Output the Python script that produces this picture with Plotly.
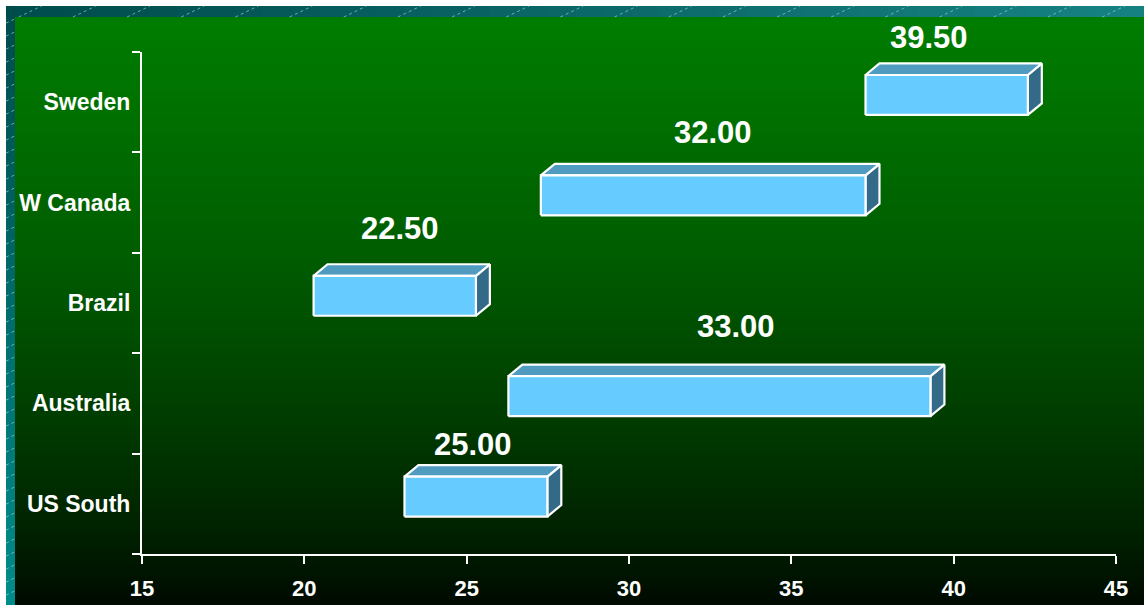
import plotly.graph_objects as go

# ---- data ----
categories = ["US South", "Australia", "Brazil", "W Canada", "Sweden"]
range_low = [23.3, 26.5, 20.5, 27.5, 37.5]
range_high = [27.7, 39.5, 25.5, 37.5, 42.5]
value_labels = ["25.00", "33.00", "22.50", "32.00", "39.50"]
label_x = [25.2, 33.3, 22.95, 32.6, 39.25]
label_y = [0.59, 1.77, 2.74, 3.70, 4.64]
x_ticks = [15, 20, 25, 30, 35, 40, 45]

# ---- geometry / style ----
W_FIG, H_FIG = 1144, 605
L, R, T, B = 142, 1116, 52, 554
PW, PH = R - L, B - T
Y_RANGE = [-0.5, len(categories) - 0.5]
FONT = "Arial, Liberation Sans, sans-serif"
DX, DY = 0.43, 0.115      # 3-D depth in data units
F0, F1 = -0.127, 0.271    # front face extent around category centre
FRONT, TOP, SIDE = "#66CCFF", "#4F9CC0", "#336A88"


def xp(px):
    return (px - L) / PW


def yp(py):
    return (B - py) / PH


def lerp(c1, c2, t):
    return tuple(round(a + (b - a) * t) for a, b in zip(c1, c2))


def rgb(c):
    return "rgb(%d,%d,%d)" % c


shapes = []

# green vertical gradient background
stops = [(17, (0, 125, 0)), (260, (0, 92, 0)), (400, (0, 64, 0)), (530, (0, 34, 0)), (605, (0, 10, 0))]


def green_at(y):
    for (y0, c0), (y1, c1) in zip(stops[:-1], stops[1:]):
        if y <= y1:
            return lerp(c0, c1, max(0.0, (y - y0) / (y1 - y0)))
    return stops[-1][1]


step = 4
y = 17
while y < 605:
    shapes.append(dict(type="rect", xref="paper", yref="paper", layer="below",
                       x0=xp(15), x1=xp(1150), y0=yp(y), y1=yp(min(612, y + step + 1)),
                       fillcolor=rgb(green_at(y + step / 2)), line=dict(width=0)))
    y += step

# teal border strips
TL, TRc, BLc = (0, 76, 76), (22, 130, 130), (0, 140, 140)
nseg = 40
for i in range(nseg):
    x0 = 6 + (1144 - 6) * i / nseg
    x1 = 6 + (1144 - 6) * (i + 1) / nseg + 1
    shapes.append(dict(type="rect", xref="paper", yref="paper", layer="below",
                       x0=xp(x0), x1=xp(x1), y0=yp(6), y1=yp(17),
                       fillcolor=rgb(lerp(TL, TRc, (i + 0.5) / nseg)), line=dict(width=0)))
for i in range(nseg):
    y0 = 17 + (605 - 17) * i / nseg
    y1 = 17 + (605 - 17) * (i + 1) / nseg + 1
    shapes.append(dict(type="rect", xref="paper", yref="paper", layer="below",
                       x0=xp(6), x1=xp(15), y0=yp(y0), y1=yp(y1),
                       fillcolor=rgb(lerp(TL, BLc, (i + 0.5) / nseg)), line=dict(width=0)))
shapes.append(dict(type="rect", xref="paper", yref="paper", layer="below",
                   x0=xp(6), x1=xp(15), y0=yp(6), y1=yp(17),
                   fillcolor=rgb(TL), line=dict(width=0)))

# diagonal hatch lines in the border
slope = 0.48
hatch = dict(color="rgba(150,205,205,0.7)", width=1, dash="dot")
c = 0
while c < 605 + slope * 1144:
    xa = max((c - 17) / slope, 6)
    xb = min((c - 6) / slope, 1144)
    if xb > xa and c % 26 == 0:
        shapes.append(dict(type="line", xref="paper", yref="paper", layer="below",
                           x0=xp(xa), y0=yp(c - slope * xa), x1=xp(xb), y1=yp(c - slope * xb),
                           line=hatch))
    ya, yb = c - slope * 6, c - slope * 15
    if yb > 17 and ya < 605:
        shapes.append(dict(type="line", xref="paper", yref="paper", layer="below",
                           x0=xp(6), y0=yp(ya), x1=xp(15), y1=yp(yb), line=hatch))
    c += 13

fig = go.Figure()

# 3-D floating bars
for i, cat in enumerate(categories):
    lo, hi = range_low[i], range_high[i]
    fl, fr = lo - DX / 2, hi - DX / 2
    bl, br = lo + DX / 2, hi + DX / 2
    yb, yt = i + F0, i + F1
    faces = [
        ([fr, br, br, fr, fr], [yb, yb + DY, yt + DY, yt, yb], SIDE),
        ([fl, fr, br, bl, fl], [yt, yt, yt + DY, yt + DY, yt], TOP),
        ([fl, fr, fr, fl, fl], [yb, yb, yt, yt, yb], FRONT),
    ]
    for fx, fy, col in faces:
        fig.add_trace(go.Scatter(x=fx, y=fy, mode="lines", fill="toself", fillcolor=col,
                                 line=dict(color="white", width=2.2), hoverinfo="skip",
                                 showlegend=False))

# value labels (y given in category units, converted to the y-axis domain so that
# the top label may sit above the plotting area)
annotations = []
for i, txt in enumerate(value_labels):
    annotations.append(dict(x=label_x[i], xref="x",
                            y=(label_y[i] - Y_RANGE[0]) / (Y_RANGE[1] - Y_RANGE[0]), yref="y domain",
                            text=txt, showarrow=False, xanchor="center", yanchor="middle",
                            font=dict(family=FONT, size=31, color="white", weight="bold")))

fig.update_layout(
    width=W_FIG, height=H_FIG, autosize=False,
    margin=dict(l=L, r=W_FIG - R, t=T, b=H_FIG - B, pad=0, autoexpand=False),
    paper_bgcolor="white", plot_bgcolor="rgba(0,0,0,0)",
    shapes=shapes, annotations=annotations, showlegend=False,
    xaxis=dict(range=[15, 45], tickvals=x_ticks, ticks="outside", ticklen=8, tickwidth=2,
               tickcolor="white", showline=True, linecolor="white", linewidth=2,
               showgrid=False, zeroline=False, ticklabelstandoff=6, automargin=False,
               tickfont=dict(family=FONT, size=22, color="white", weight="bold")),
    yaxis=dict(range=Y_RANGE, tickvals=list(range(len(categories))), ticktext=categories,
               ticks="", showline=True, linecolor="white", linewidth=2,
               showgrid=False, zeroline=False, ticklabelstandoff=5, automargin=False,
               minor=dict(tickvals=[k - 0.5 for k in range(len(categories) + 1)],
                          ticks="outside", ticklen=8, tickwidth=2, tickcolor="white", showgrid=False),
               tickfont=dict(family=FONT, size=23, color="white", weight="bold")),
)

fig.write_html("out.html", config={"displayModeBar": False})

# remove the default page margin so the figure sits at the window's top-left corner
with open("out.html", encoding="utf-8") as fh:
    html = fh.read()
html = html.replace("<body>", '<body style="margin:0;padding:0;overflow:hidden;">', 1)
with open("out.html", "w", encoding="utf-8") as fh:
    fh.write(html)
